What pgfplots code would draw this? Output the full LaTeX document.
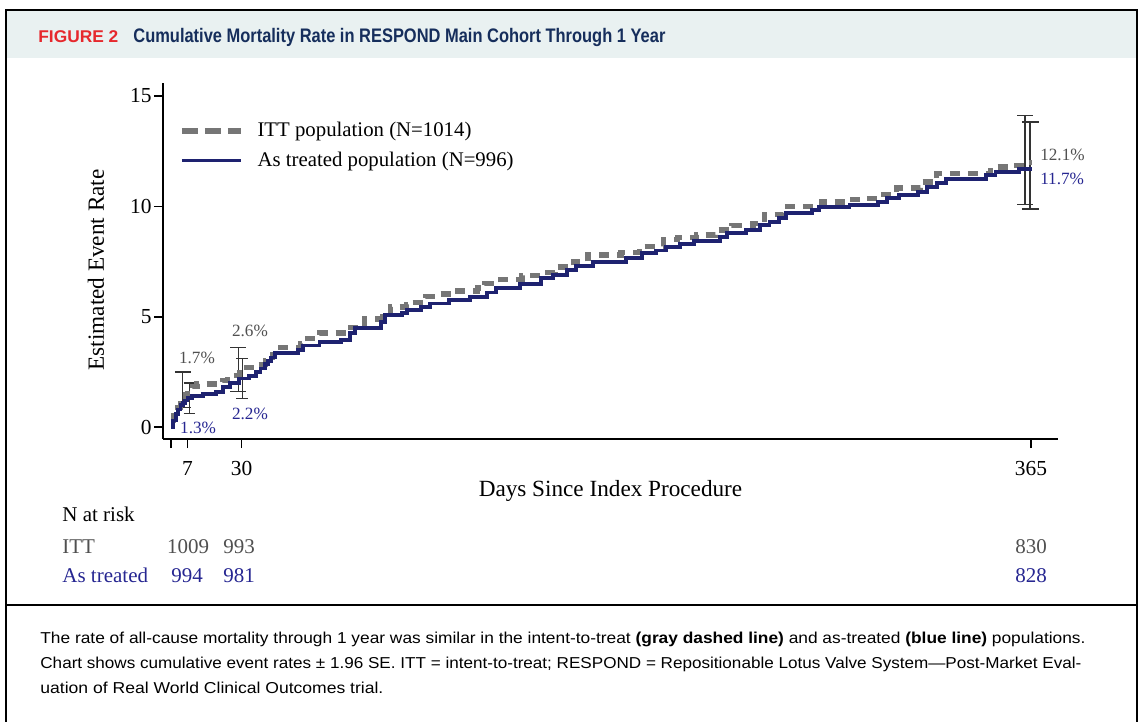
\documentclass[border=0pt]{standalone}
\usepackage{fontspec}
\setmainfont{Liberation Serif}
\setsansfont{Liberation Sans}
\usepackage{graphicx}
\usepackage{pgfplots}
\pgfplotsset{compat=1.18}

\definecolor{ittgray}{RGB}{118,118,118}
\definecolor{atblue}{RGB}{30,34,112}
\definecolor{txtblue}{RGB}{38,38,145}
\definecolor{txtgray}{RGB}{80,80,80}
\definecolor{figred}{RGB}{230,40,45}
\definecolor{titlenavy}{RGB}{22,46,92}
\definecolor{bandcol}{RGB}{233,241,241}

\begin{document}
\begin{tikzpicture}
\begin{scope}[x=0.5pt,y=-0.5pt]
\path[use as bounding box] (0,0) rectangle (1141,722);
\fill[bandcol] (6,11) rectangle (1136,58);
\draw[line width=1pt] (5.5,730) -- (5.5,10.5) -- (1137,10.5) -- (1137,730);
\draw[line width=1pt] (5.5,604.5) -- (1137,604.5);
% header
\node[anchor=base west, inner sep=0] at (38,43) {\resizebox{40pt}{\height}{\sffamily\bfseries\fontsize{8.5}{9}\selectfont\color{figred}FIGURE 2}};
\node[anchor=base west, inner sep=0] at (133,43) {\resizebox{266pt}{\height}{\sffamily\bfseries\fontsize{9.8}{11}\selectfont\color{titlenavy}Cumulative Mortality Rate in RESPOND Main Cohort Through 1 Year}};
% risk table
\begin{scope}[every node/.style={inner sep=0, font=\fontsize{10.5}{12}\selectfont}]
\node[anchor=base west] at (62,521) {N at risk};
\node[anchor=base west, text=txtgray] at (62,553) {ITT};
\node[anchor=base west, text=txtblue] at (62,582) {As treated};
\node[anchor=base, text=txtgray] at (188,553) {1009};
\node[anchor=base, text=txtgray] at (239,553) {993};
\node[anchor=base, text=txtgray] at (1031,553) {830};
\node[anchor=base, text=txtblue] at (187,582) {994};
\node[anchor=base, text=txtblue] at (239,582) {981};
\node[anchor=base, text=txtblue] at (1031,582) {828};
\end{scope}
% caption
\begin{scope}[every node/.style={inner sep=0, anchor=base west}]
\node at (40,643) {\resizebox{522.5pt}{\height}{\sffamily\fontsize{7.9}{9}\selectfont The rate of all-cause mortality through 1 year was similar in the intent-to-treat \textbf{(gray dashed line)} and as-treated \textbf{(blue line)} populations.}};
\node at (40,668) {\resizebox{520.5pt}{\height}{\sffamily\fontsize{7.9}{9}\selectfont Chart shows cumulative event rates ± 1.96 SE. ITT = intent-to-treat; RESPOND = Repositionable Lotus Valve System—Post-Market Eval-}};
\node at (40,693) {\resizebox{171.5pt}{\height}{\sffamily\fontsize{7.9}{9}\selectfont uation of Real World Clinical Outcomes trial.}};
\end{scope}
\end{scope}

\begin{axis}[
  at={(81.5pt,-219.5pt)}, anchor=south west,
  scale only axis, width=447.5pt, height=178pt,
  xmin=-3.4, xmax=376.5, ymin=-0.54, ymax=15.59,
  axis lines*=left, axis line style={line width=1pt, -},
  xtick={0,7,30,365}, xticklabels={,7,30,365},
  ytick={0,5,10,15},
  tick align=outside, major tick length=4.5pt,
  tick style={line width=0.8pt, black},
  /pgf/number format/assume math mode=true,
  ticklabel style={font=\fontsize{10.7}{12}\selectfont},
  yticklabel style={inner sep=1pt},
  xticklabel style={yshift=-3pt},
  xlabel={Days Since Index Procedure},
  ylabel={Estimated Event Rate},
  label style={font=\fontsize{11.6}{13}\selectfont},
  xlabel style={at={(axis description cs:0.5,-0.147)}, anchor=center},
  ylabel style={at={(axis description cs:-0.0749,0.475)}, anchor=center, rotate=0},
  legend style={at={(0.0178,0.902)}, anchor=north west, draw=none, fill=none,
    font=\fontsize{10.4}{12}\selectfont, row sep=2pt, inner sep=0pt},
  legend cell align=left,
  legend image code/.code={\draw[#1] (0pt,0pt) -- (29.5pt,0pt); \path (34.5pt,0pt);},
  unbounded coords=jump,
  clip=false,
]
\addlegendimage{ittgray, line width=2.6pt, dash pattern=on 8pt off 3.5pt}
\addlegendentry{ITT population (N=1014)}
\addlegendimage{atblue, line width=1.9pt}
\addlegendentry{As treated population (N=996)}

% error bars
\addplot[black!80, line width=0.6pt, forget plot] coordinates {
(5,0.9) (5,2.5) (5,nan)
(1.6,0.9) (8.4,0.9) (5,nan)
(1.6,2.5) (8.4,2.5) (5,nan)
(7.8,0.6) (7.8,2.0) (7.8,nan)
(5.4,0.6) (10.2,0.6) (7.8,nan)
(5.4,2.0) (10.2,2.0) (7.8,nan)
(28.5,1.6) (28.5,3.6) (28.5,nan)
(25.1,1.6) (31.9,1.6) (28.5,nan)
(25.1,3.6) (31.9,3.6) (28.5,nan)
(30.2,1.28) (30.2,3.12) (30.2,nan)
(27.6,1.28) (32.8,1.28) (30.2,nan)
(27.6,3.12) (32.8,3.12) (30.2,nan)
(362.5,10.1) (362.5,14.1) (362.5,nan)
(359.1,10.1) (365.9,10.1) (362.5,nan)
(359.1,14.1) (365.9,14.1) (362.5,nan)
(364.6,9.88) (364.6,13.82) (364.6,nan)
(361.2,9.88) (368.5,9.88) (364.6,nan)
(361.2,13.82) (368.5,13.82)
};

% ITT
\addplot[ittgray, line width=2.6pt, dash pattern=on 5pt off 4pt, const plot, forget plot] coordinates {
(0,0.3) (1,0.5) (2,0.7) (3,0.9) (4,1.05) (5,1.2) (6,1.45) (7,1.7) (9,1.85) (11,1.95)
(22,2.1) (24,2.35) (29,2.45) (30,2.7) (37,2.85) (40,3.0) (43,3.3) (45,3.6) (55,3.8)
(58,4.0) (63,4.26) (75,4.5) (80,4.7) (82,4.9) (90,5.0) (93,5.44) (100,5.55) (102,5.66)
(108,5.9) (114,6.03) (120,6.17) (130,6.3) (133,6.5) (140,6.7) (149,6.85) (158,7.0)
(163,7.25) (171,7.5) (177,7.8) (191,7.9) (199,8.2) (209,8.5) (215,8.6) (223,8.7)
(231,8.93) (238,9.15) (247,9.24) (252,9.65) (260,10.0) (276,10.2) (287,10.3) (294,10.37)
(301,10.55) (308,10.83) (318,11.1) (325,11.5) (348,11.78) (356,11.85) (363,12.0) (365.5,12.0)
};
% As treated
\addplot[atblue, line width=1.9pt, const plot, forget plot] coordinates {
(0,0) (1,0.3) (2,0.6) (3,0.8) (4,1.0) (5,1.1) (6,1.2) (7,1.3) (9,1.4) (13.5,1.5)
(19,1.6) (22,1.8) (25,2.0) (29,2.2) (33,2.3) (36,2.5) (38,2.65) (40,2.85) (41,3.0)
(42.5,3.15) (44,3.35) (54,3.5) (56,3.7) (63,3.85) (72,3.95) (76,4.26) (78,4.5) (89,4.75)
(91,5.07) (98,5.16) (100,5.3) (106,5.44) (110,5.6) (118,5.75) (127,5.9) (134,6.1)
(138,6.3) (148,6.5) (157,6.75) (162,6.9) (168,7.1) (172,7.3) (179,7.48) (193,7.65)
(200,7.88) (206,8.0) (210,8.15) (216,8.3) (222,8.43) (233,8.6) (236,8.78) (244,8.93)
(250,9.15) (254,9.3) (258,9.47) (261,9.7) (272,9.83) (275,9.96) (288,10.06) (300,10.2)
(304,10.37) (309,10.5) (317,10.65) (321,10.87) (325,11.05) (329,11.24) (346,11.42)
(350,11.55) (360,11.7) (365.5,11.7)
};

% percentage labels
\node[font=\fontsize{8.6}{10}\selectfont, text=txtgray] at (axis cs:11,3.13) {1.7\%};
\node[font=\fontsize{8.6}{10}\selectfont, text=txtgray] at (axis cs:33.5,4.35) {2.6\%};
\node[font=\fontsize{8.6}{10}\selectfont, text=txtblue] at (axis cs:11.5,-0.05) {1.3\%};
\node[font=\fontsize{8.6}{10}\selectfont, text=txtblue] at (axis cs:33.5,0.59) {2.2\%};
\node[font=\fontsize{8.6}{10}\selectfont, text=txtgray, anchor=west, inner sep=0] at (axis cs:368.8,12.32) {12.1\%};
\node[font=\fontsize{8.6}{10}\selectfont, text=txtblue, anchor=west, inner sep=0] at (axis cs:368.8,11.24) {11.7\%};
\end{axis}
\end{tikzpicture}
\end{document}
